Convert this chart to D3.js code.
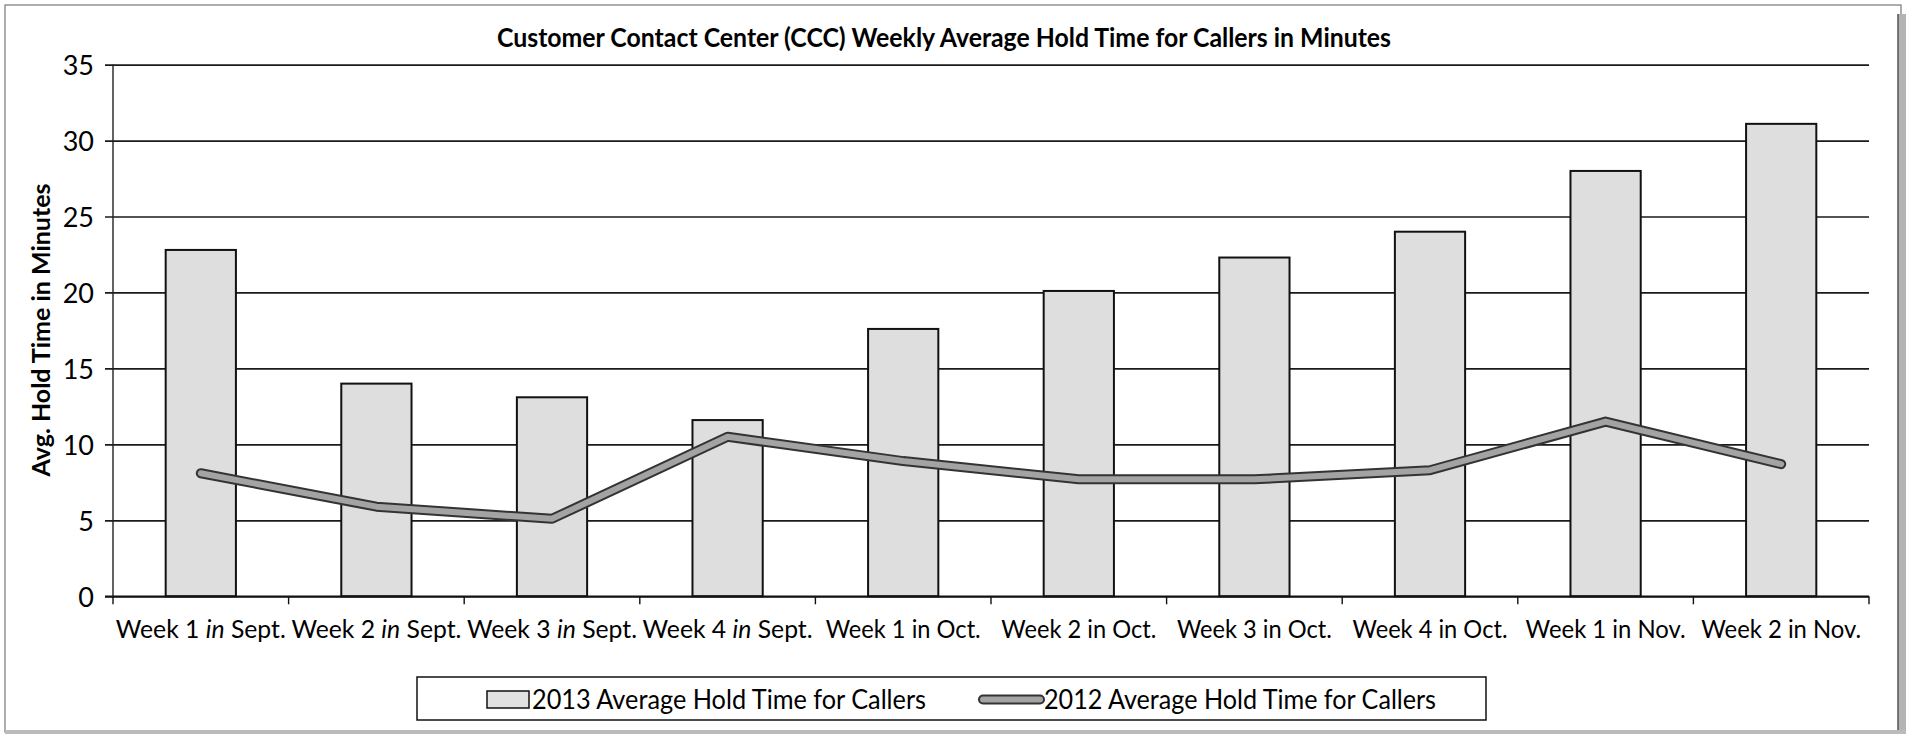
<!DOCTYPE html>
<html><head><meta charset="utf-8">
<script src="https://cdn.jsdelivr.net/npm/d3@7"></script>
<style>
body{margin:0;background:#fff;}
svg{display:block;}
text{font-family:Lato,"Open Sans","Noto Sans",sans-serif;fill:#000;}
</style>
</head><body>
<svg id="chart" width="1912" height="738"></svg>
<script>
const categories = ["Week 1 in Sept.","Week 2 in Sept.","Week 3 in Sept.","Week 4 in Sept.","Week 1 in Oct.","Week 2 in Oct.","Week 3 in Oct.","Week 4 in Oct.","Week 1 in Nov.","Week 2 in Nov."];
const values2013 = [22.8, 14.0, 13.1, 11.6, 17.6, 20.1, 22.3, 24.0, 28.0, 31.1];
const values2012 = [8.1, 5.9, 5.1, 10.5, 8.9, 7.7, 7.7, 8.3, 11.5, 8.7];
const yTicks = [0, 5, 10, 15, 20, 25, 30, 35];
const seriesNames = ["2013 Average Hold Time for Callers", "2012 Average Hold Time for Callers"];
const chartTitle = "Customer Contact Center (CCC) Weekly Average Hold Time for Callers in Minutes";
const yTitle = "Avg. Hold Time in Minutes";

const svg = d3.select("#chart");
const W = 1912, H = 738;
const m = {left:113, right:43, top:64.6, bottom:738-596.3};
const pw = W - m.left - m.right, ph = H - m.top - m.bottom;

// outer frame
svg.append("rect").attr("x",5).attr("y",5).attr("width",1896).attr("height",727)
  .attr("fill","#fff").attr("stroke","#777").attr("stroke-width",1.2);
svg.append("rect").attr("x",1898).attr("y",14).attr("width",8).attr("height",718).attr("fill","#b4b4b4");
svg.append("line").attr("x1",1898).attr("x2",1898).attr("y1",14).attr("y2",732).attr("stroke","#555").attr("stroke-width",1.5);
svg.append("rect").attr("x",5).attr("y",730).attr("width",1901).attr("height",4).attr("fill","#bbb");

// squeeze text to a target width (Calibri-like narrow look)
function squeeze(sel, target){
  sel.attr("textLength", target).attr("lengthAdjust","spacingAndGlyphs");
}

const x = d3.scaleBand().domain(categories).range([0,pw]).paddingInner(0.6).paddingOuter(0.3);
const y = d3.scaleLinear().domain([0,35]).range([ph,0]);

const g = svg.append("g").attr("transform",`translate(${m.left},${m.top})`);

// gridlines (extend 8px left as tick marks)
const grid = g.append("g").attr("transform","translate(-8,0)")
  .call(d3.axisRight(y).tickValues(yTicks).tickSize(pw+8).tickFormat(""));
grid.select(".domain").remove();
grid.selectAll("line").attr("stroke","#1a1a1a").attr("stroke-width",1.7);

// y labels
const yl = g.append("g").call(d3.axisLeft(y).tickValues(yTicks).tickSize(0).tickPadding(19));
yl.select(".domain").remove();
yl.selectAll("text").style("font-size","27px").style("font-family","Lato,sans-serif").attr("fill","#000")
  .attr("dy","0.36em");

// bars
g.selectAll("rect.bar").data(categories).join("rect").attr("class","bar")
  .attr("x",d=>x(d)).attr("width",x.bandwidth())
  .attr("y",(d,i)=>y(values2013[i])).attr("height",(d,i)=>ph - y(values2013[i]))
  .attr("fill","#dedede").attr("stroke","#111").attr("stroke-width",2);

// axes lines
g.append("line").attr("x1",0).attr("x2",0).attr("y1",0).attr("y2",ph).attr("stroke","#222").attr("stroke-width",1.4);
g.append("line").attr("x1",-8).attr("x2",pw).attr("y1",ph).attr("y2",ph).attr("stroke","#111").attr("stroke-width",1.8);
// category boundary ticks
const bounds = d3.range(categories.length+1).map(i => x.step()*i);
g.selectAll("line.xt").data(bounds).join("line").attr("class","xt")
  .attr("x1",d=>d).attr("x2",d=>d).attr("y1",ph).attr("y2",ph+8)
  .attr("stroke","#111").attr("stroke-width",1.4);

// x labels
const xa = g.append("g").attr("transform",`translate(0,${ph})`)
  .call(d3.axisBottom(x).tickSize(0).tickPadding(0).tickFormat(""));
xa.select(".domain").remove();
xa.selectAll(".tick").each(function(d){
  const parts = d.split(" in ");
  const sept = d.includes("Sept");
  const t = d3.select(this).append("text").attr("y",42).attr("text-anchor","middle")
    .attr("font-size",25).attr("fill","#000");
  t.append("tspan").text(parts[0]+" ");
  t.append("tspan").text("in").style("font-style", sept ? "italic" : "normal");
  t.append("tspan").text(" "+parts[1]);
  squeeze(t, sept ? 170 : (d.includes("Oct") ? 155 : 160));
});

// 2012 line
const line = d3.line().x((d,i)=>x(categories[i])+x.bandwidth()/2).y(d=>y(d));
g.append("path").datum(values2012).attr("d",line).attr("fill","none")
  .attr("stroke","#333").attr("stroke-width",10).attr("stroke-linejoin","round").attr("stroke-linecap","round");
g.append("path").datum(values2012).attr("d",line).attr("fill","none")
  .attr("stroke","#a3a3a3").attr("stroke-width",6).attr("stroke-linejoin","round").attr("stroke-linecap","round");

// title
const tt = svg.append("text").attr("x",944).attr("y",47).attr("text-anchor","middle")
  .attr("font-size",26).style("font-weight","bold").text(chartTitle);
squeeze(tt, 894);

// y title
const yt = svg.append("text").attr("transform","translate(50,330) rotate(-90)").attr("text-anchor","middle")
  .attr("font-size",25).style("font-weight","bold").text(yTitle);
squeeze(yt, 293);

// legend
const lg = svg.append("g");
lg.append("rect").attr("x",417).attr("y",677).attr("width",1069).attr("height",43)
  .attr("fill","#fff").attr("stroke","#111").attr("stroke-width",1.5);
lg.append("rect").attr("x",487).attr("y",691).attr("width",42).attr("height",17)
  .attr("fill","#e2e2e2").attr("stroke","#111").attr("stroke-width",1.5);
const lt1 = lg.append("text").attr("x",532).attr("y",709).attr("font-size",27).text(seriesNames[0]);
squeeze(lt1, 394);
lg.append("line").attr("x1",983).attr("x2",1040).attr("y1",699.5).attr("y2",699.5)
  .attr("stroke","#333").attr("stroke-width",10).attr("stroke-linecap","round");
lg.append("line").attr("x1",983).attr("x2",1040).attr("y1",699.5).attr("y2",699.5)
  .attr("stroke","#a3a3a3").attr("stroke-width",6).attr("stroke-linecap","round");
const lt2 = lg.append("text").attr("x",1044).attr("y",709).attr("font-size",27).text(seriesNames[1]);
squeeze(lt2, 392);
</script>
</body></html>
